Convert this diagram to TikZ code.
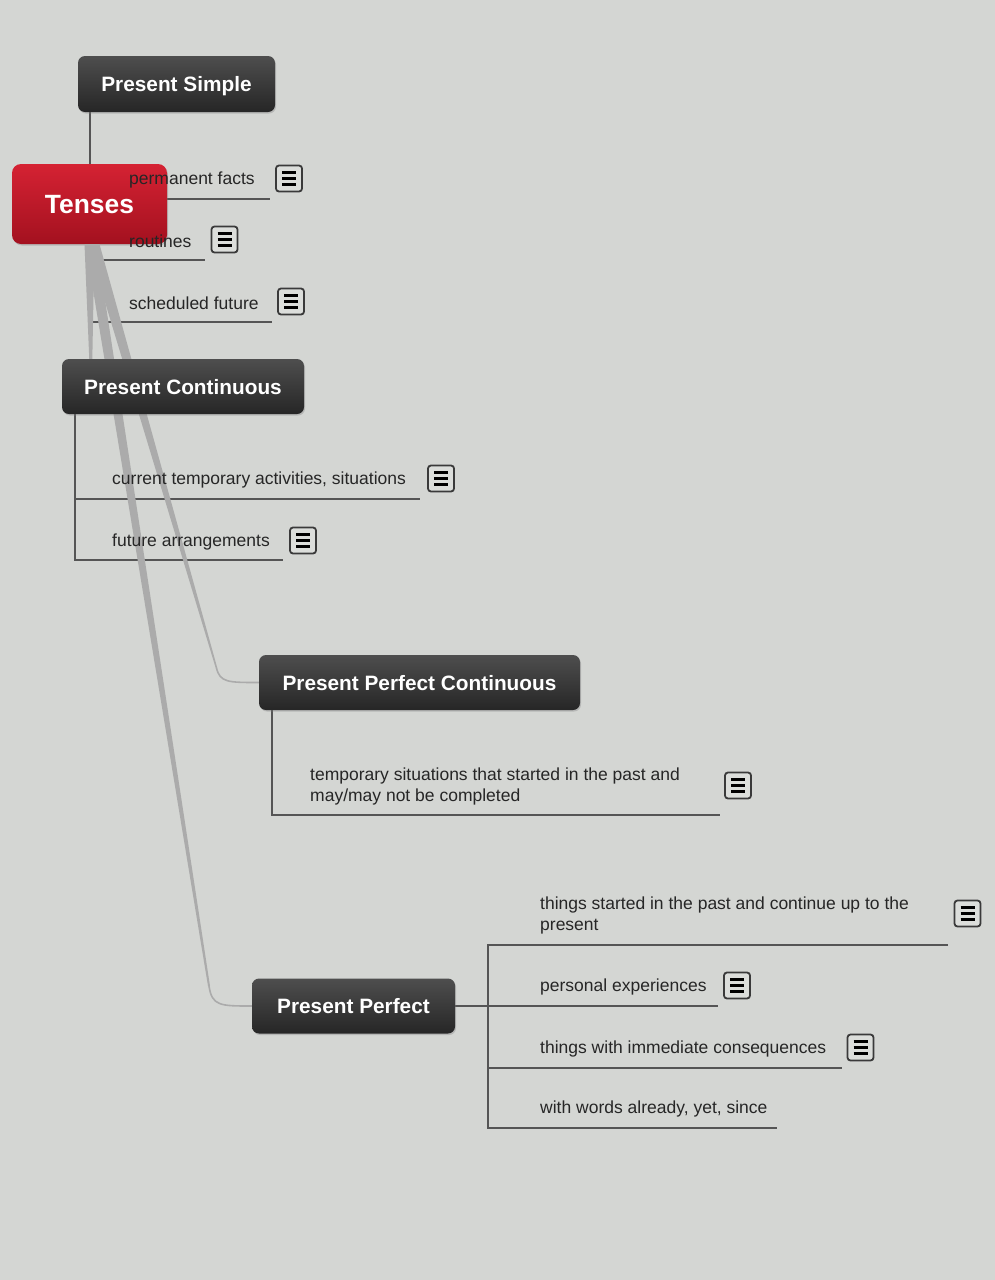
\documentclass[tikz,border=0pt]{standalone}
\usepackage{fontspec}
\setmainfont{Liberation Sans}
\usetikzlibrary{shadows,calc}
\definecolor{bgc}{HTML}{D4D6D3}
\definecolor{linec}{HTML}{555555}
\definecolor{wedgec}{HTML}{ABABAB}
\definecolor{txtc}{HTML}{262626}
\definecolor{toptop}{HTML}{4E4E4E}
\definecolor{topbot}{HTML}{262626}
\definecolor{redtop}{HTML}{D52233}
\definecolor{redbot}{HTML}{A3111F}
\definecolor{iconfill}{HTML}{DCDEDB}
\definecolor{iconedge}{HTML}{3A3A3A}
\pgfdeclarelayer{bg}
\pgfdeclarelayer{lines}
\pgfdeclarelayer{central}
\pgfdeclarelayer{wedges}
\pgfsetlayers{bg,lines,central,wedges,main}
\begin{document}
\begin{tikzpicture}[x=1pt,y=-1pt,
 topic/.style={rounded corners=7pt, top color=toptop, bottom color=topbot, text=white,
   font=\bfseries\fontsize{20.8}{24}\selectfont, inner sep=0pt, text height=15pt, text depth=0pt,
   drop shadow={shadow xshift=1pt,shadow yshift=-1.5pt,opacity=.35}},
 central/.style={rounded corners=9pt, top color=redtop, bottom color=redbot, text=white,
   font=\bfseries\fontsize{26.4}{30}\selectfont, inner sep=0pt, text height=19pt, text depth=0pt,
   minimum width=155pt, minimum height=80pt,
   drop shadow={shadow xshift=1pt,shadow yshift=-1.5pt,opacity=.35}},
 leaf/.style={anchor=west, inner sep=0pt, yshift=-2pt, text=txtc, font=\fontsize{17.5}{21}\selectfont, align=left},
 note/.style={draw=iconedge, line width=1.8pt, rounded corners=3pt, fill=iconfill,
   minimum width=26pt, minimum height=26pt, inner sep=0pt,
   path picture={\foreach \dy in {-6,0,6}
     \draw[black, line width=2.6pt] ([xshift=-7pt,yshift=\dy pt]path picture bounding box.center)
       -- ([xshift=7pt,yshift=\dy pt]path picture bounding box.center);}},
 branch/.style={draw=linec, line width=1.8pt},
 wedge/.style={fill=wedgec},
 tail/.style={draw=wedgec, line width=1.6pt}]

\begin{pgfonlayer}{bg}
\fill[bgc] (0,0) rectangle (995,1280);
\end{pgfonlayer}
\useasboundingbox (0,0) rectangle (995,1280);

% topics
\node[topic, minimum width=197pt, minimum height=56pt] (ps) at (176.5,84) {Present Simple};
\begin{pgfonlayer}{central}
\node[central] (tn) at (89.5,204) {Tenses};
\end{pgfonlayer}
\node[topic, minimum width=242pt, minimum height=55pt] (pc) at (183,386.5) {Present Continuous};
\node[topic, minimum width=321pt, minimum height=55pt] (ppc) at (419.5,682.5) {Present Perfect Continuous};
\node[topic, minimum width=203pt, minimum height=55pt] (pp) at (353.5,1006) {Present Perfect};

% branch coordinates
\coordinate (psV) at (90,322);
\coordinate (psE1) at (270,199);
\coordinate (psE2) at (205,260);
\coordinate (psE3) at (272,322);
\coordinate (pcV) at (75,560);
\coordinate (pcE1) at (420,499);
\coordinate (pcE2) at (283,560);
\coordinate (ppcV) at (272,815);
\coordinate (ppcE) at (720,815);
\coordinate (ppV1) at (488,945);
\coordinate (ppV2) at (488,1128);
\coordinate (ppE1) at (948,945);
\coordinate (ppE2) at (718,1006);
\coordinate (ppE3) at (842,1068);
\coordinate (ppE4) at (777,1128);
\coordinate (ppcT) at (216.5,668);
\coordinate (ppT) at (209,986);

\begin{pgfonlayer}{lines}
\draw[branch] (psV |- ps.south) -- (psV) -- (psE3);
\draw[branch] (psV |- psE1) -- (psE1);
\draw[branch] (psV |- psE2) -- (psE2);
\draw[branch] (pcV |- pc.south) -- (pcV) -- (pcE2);
\draw[branch] (pcV |- pcE1) -- (pcE1);
\draw[branch] (ppcV |- ppc.south) -- (ppcV) -- (ppcE);
\draw[branch] (pp.east) -- (ppE2);
\draw[branch] (ppE1) -- (ppV1) -- (ppV2) -- (ppE4);
\draw[branch] (ppV1 |- ppE3) -- (ppE3);
\end{pgfonlayer}

\begin{pgfonlayer}{wedges}
\fill[wedge] ($(tn.south)+(-5,0)$) -- ($(pc.north west)+(27.5,1)$) -- ($(pc.north west)+(30.5,1)$) -- ($(tn.south)+(5,0)$) -- cycle;
\fill[wedge] ($(tn.south)+(-4,0)$) -- ($(ppT)+(-1,0)$) -- ($(ppT)+(1,0)$) -- ($(tn.south)+(7,0)$) -- cycle;
\draw[tail] (ppT) .. controls (212,1006) and (220,1006) .. (pp.west);
\fill[wedge] ($(tn.south)+(-2,0)$) -- ($(ppcT)+(-0.8,0)$) -- ($(ppcT)+(0.8,0)$) -- ($(tn.south)+(10,0)$) -- cycle;
\draw[tail] (ppcT) .. controls (220,682.5) and (228,682.5) .. (ppc.west);
\end{pgfonlayer}

% leaves
\node[leaf] (l1) at (129,178) {permanent facts};
\node[leaf] (l2) at (129,239) {routines};
\node[leaf] (l3) at (129,301) {scheduled future};
\node[leaf] (l4) at (112,478) {current temporary activities, situations};
\node[leaf] (l5) at (112,540) {future arrangements};
\node[leaf] (l6) at (310,784.5) {temporary situations that started in the past and\\may/may not be completed};
\node[leaf] (l7) at (540,913.5) {things started in the past and continue up to the\\present};
\node[leaf] (l8) at (540,985) {personal experiences};
\node[leaf] (l9) at (540,1047) {things with immediate consequences};
\node[leaf] (l10) at (540,1107) {with words already, yet, since};

% note icons
\node[note] (n1) at (289,178.5) {};
\node[note] (n2) at (224.5,239.5) {};
\node[note] (n3) at (291,301.5) {};
\node[note] (n4) at (441,478.5) {};
\node[note] (n5) at (303,540.5) {};
\node[note] (n6) at (738,785.5) {};
\node[note] (n7) at (967.5,913.5) {};
\node[note] (n8) at (737,985.5) {};
\node[note] (n9) at (860.5,1047.5) {};
\end{tikzpicture}
\end{document}
